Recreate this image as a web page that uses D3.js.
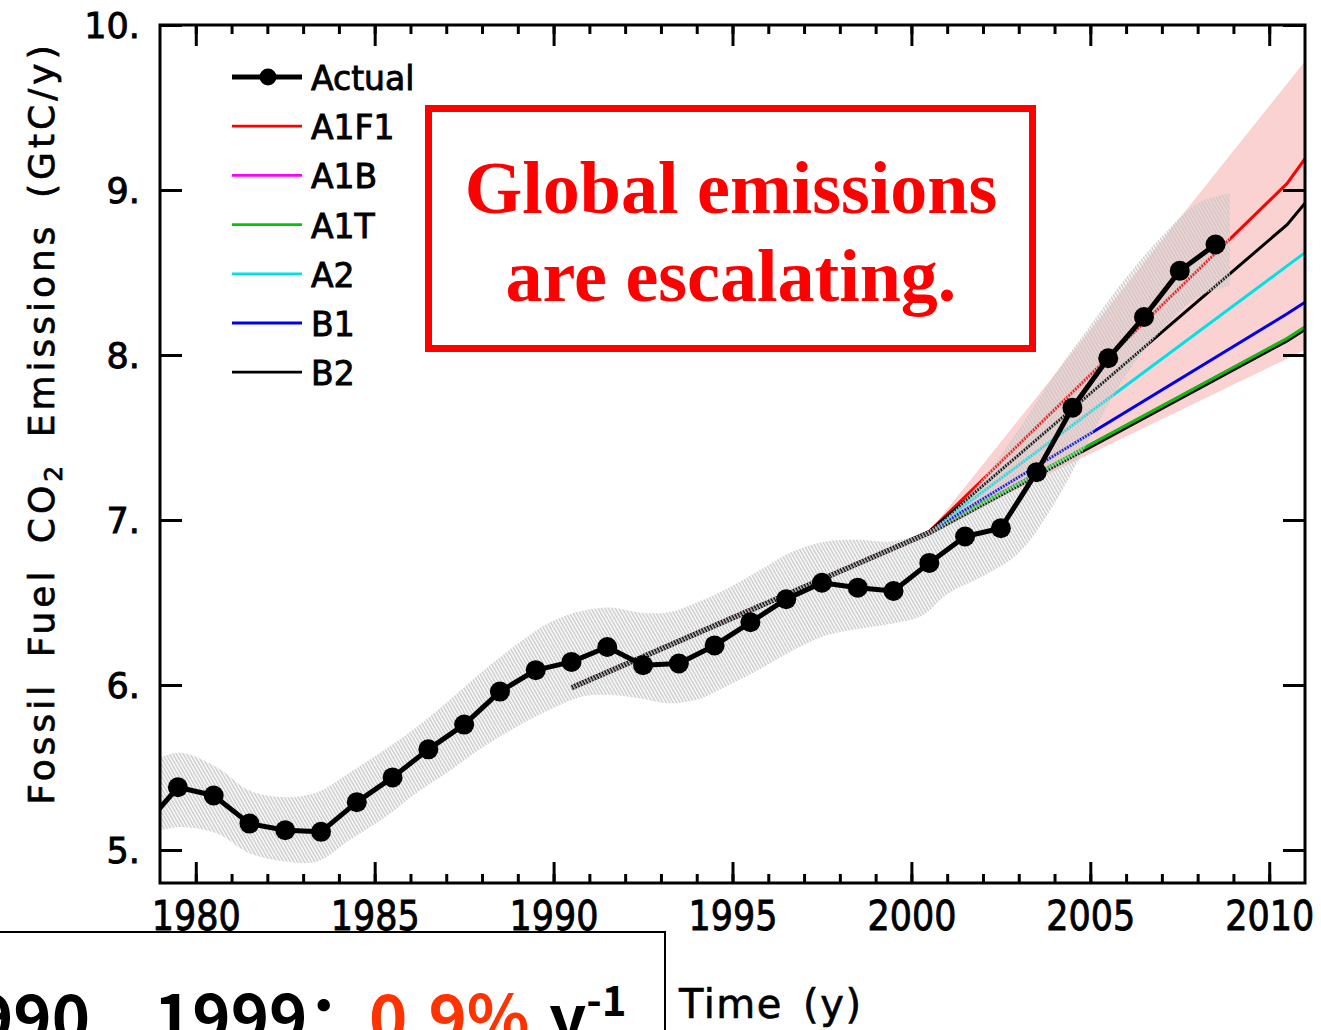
<!DOCTYPE html>
<html><head><meta charset="utf-8">
<script src="https://cdn.jsdelivr.net/npm/d3@7/dist/d3.min.js"></script>
<style>body{margin:0;background:#fff} svg{display:block}</style>
</head><body>
<svg id="c" width="1321" height="1030"></svg>
<script>
// ---------------- data ----------------
const actualYears  = d3.range(1978, 2009);            // plotted at mid-year
const actualValues = [5.13, 5.38, 5.33, 5.16, 5.12, 5.11, 5.29, 5.44, 5.61, 5.76,
                      5.96, 6.09, 6.14, 6.23, 6.12, 6.13, 6.24, 6.38, 6.52, 6.62,
                      6.59, 6.57, 6.74, 6.90, 6.95, 7.29, 7.68, 7.98, 8.23, 8.51, 8.67];

const scenarioNames  = ["A1F1", "A1B", "A1T", "A2", "B1", "B2"];
const scenarioColors = ["#ff0000", "#ff00ff", "#00c800", "#00e0e6", "#0000ee", "#000000"];
const scenarioYears  = [1990, 2000, 2010, 2010.5];   // plotted at mid-year
const A1F1 = [5.99, 6.93, 9.04, 9.19];
const A1B  = [5.99, 6.93, 8.10, 8.17];
const A1T  = [5.99, 6.93, 8.10, 8.17];
const A2   = [5.99, 6.93, 8.54, 8.62];
const B1   = [5.99, 6.93, 8.25, 8.32];
const B2   = [5.99, 6.93, 8.79, 8.92];
const scenarioValues = [A1F1, A1B, A1T, A2, B1, B2];

// scenario envelope (pink)
const fanYears = [2000.5, 2011];
const fanUpper = [6.93, 9.78];
const fanLower = [6.93, 8.03];

// uncertainty band around actual (grey hatched)
const bandYears = [1978.5, 1979.0, 1979.6, 1980.6, 1981.5, 1982.5, 1983.4, 1984.3, 1985.3, 1986.2,
                   1987.1, 1988.0, 1989.0, 1989.9, 1990.8, 1991.6, 1992.4, 1993.2, 1994.0, 1994.9,
                   1995.8, 1996.7, 1997.6, 1998.5, 1999.4, 2000.3, 2001.0, 2002.0, 2003.0, 2004.0,
                   2005.0, 2006.0, 2007.0, 2008.0, 2008.9];
const bandUpper = [5.52, 5.56, 5.59, 5.50, 5.36, 5.32, 5.35, 5.47, 5.61, 5.75,
                   5.91, 6.08, 6.25, 6.38, 6.45, 6.47, 6.44, 6.44, 6.50, 6.59,
                   6.70, 6.81, 6.87, 6.88, 6.87, 6.92, 7.02, 7.25, 7.55, 7.88,
                   8.18, 8.47, 8.72, 8.92, 8.98];
const bandLower = [5.10, 5.12, 5.14, 5.10, 4.98, 4.93, 4.93, 5.06, 5.20, 5.35,
                   5.48, 5.62, 5.75, 5.85, 5.93, 5.94, 5.92, 5.89, 5.91, 6.00,
                   6.10, 6.21, 6.30, 6.34, 6.37, 6.42, 6.55, 6.66, 6.80, 7.10,
                   7.50, 7.88, 8.15, 8.35, 8.42];

const xMajorTicks  = [1980, 1985, 1990, 1995, 2000, 2005, 2010];
const xTickLabels  = ["1980", "1985", "1990", "1995", "2000", "2005", "2010"];
const xMinorTicks  = d3.range(1980, 2011);
const yTicks       = [5, 6, 7, 8, 9, 10];
const yTickLabels  = ["5.", "6.", "7.", "8.", "9.", "10."];

// ---------------- chart ----------------
const svg = d3.select("#c");
const x = d3.scaleLinear().domain([1979, 2011]).range([160, 1305]);
const y = d3.scaleLinear().domain([4.8, 10]).range([883, 25]);
const AX = "DejaVu Sans, Verdana, sans-serif";

const defs = svg.append("defs");
defs.append("clipPath").attr("id", "plot")
  .append("rect").attr("x", 160).attr("y", 25).attr("width", 1145).attr("height", 858);
const pat = defs.append("pattern").attr("id", "hatch")
  .attr("patternUnits", "userSpaceOnUse").attr("width", 3).attr("height", 3)
  .attr("patternTransform", "rotate(-30)");
pat.append("rect").attr("x", 0).attr("y", 0).attr("width", 1.5).attr("height", 3).attr("fill", "#c9c9c9");

const g = svg.append("g").attr("clip-path", "url(#plot)");

// pink envelope
const fanData = fanYears.map((yr, i) => ({yr, lo: fanLower[i], hi: fanUpper[i]}));
g.append("path").datum(fanData)
  .attr("d", d3.area().x(d => x(d.yr)).y0(d => y(d.lo)).y1(d => y(d.hi)))
  .attr("fill", "#fad2d2");

// scenario lines
const sLine = d3.line().x(d => x(d.yr + 0.5)).y(d => y(d.v));
const drawOrder = [1, 2, 4, 3, 0, 5];
drawOrder.forEach(k => {
  const data = scenarioYears.map((yr, i) => ({yr, v: scenarioValues[k][i]}));
  if (scenarioNames[k] === "A1T") {
    g.append("path").datum(data).attr("d", sLine).attr("fill", "none")
      .attr("stroke", "#000").attr("stroke-width", 3).attr("transform", "translate(0,2.4)");
  }
  g.append("path").datum(data).attr("d", sLine).attr("fill", "none")
    .attr("stroke", scenarioColors[k]).attr("stroke-width", 3);
});

// hatched band
const bandData = bandYears.map((yr, i) => ({yr, lo: bandLower[i], hi: bandUpper[i]}));
g.append("path").datum(bandData)
  .attr("d", d3.area().curve(d3.curveCatmullRom).x(d => x(d.yr)).y0(d => y(d.lo)).y1(d => y(d.hi)))
  .attr("fill", "url(#hatch)");

// actual
const actual = actualYears.map((yr, i) => ({yr, v: actualValues[i]}));
g.append("path").datum(actual)
  .attr("d", d3.line().x(d => x(d.yr + 0.5)).y(d => y(d.v)))
  .attr("fill", "none").attr("stroke", "#000").attr("stroke-width", 5).attr("stroke-linejoin", "round");
g.selectAll("circle.act").data(actual).enter().append("circle")
  .attr("cx", d => x(d.yr + 0.5)).attr("cy", d => y(d.v)).attr("r", 10).attr("fill", "#000");

// axes
function styleAxis(sel) {
  sel.select(".domain").remove();
  sel.selectAll("line").attr("stroke", "#000").attr("stroke-width", 3);
}
svg.append("g").attr("transform", "translate(0,883)")
  .call(d3.axisBottom(x).tickValues(xMinorTicks).tickSize(-9).tickFormat(""))
  .call(styleAxis);
svg.append("g").attr("transform", "translate(0,25)")
  .call(d3.axisTop(x).tickValues(xMinorTicks).tickSize(-9).tickFormat(""))
  .call(styleAxis);
svg.append("g").attr("transform", "translate(0,25)")
  .call(d3.axisTop(x).tickValues(xMajorTicks).tickSize(-21).tickFormat(""))
  .call(styleAxis);
const xb = svg.append("g").attr("transform", "translate(0,883)")
  .call(d3.axisBottom(x).tickValues(xMajorTicks).tickSize(-21).tickPadding(18)
        .tickFormat((d, i) => xTickLabels[i]))
  .call(styleAxis);
xb.selectAll("text").attr("font-family", AX).attr("font-size", 41).attr("fill", "#000")
  .attr("stroke", "#000").attr("stroke-width", 0.9)
  .attr("textLength", 89).attr("lengthAdjust", "spacingAndGlyphs");

const yl = svg.append("g").attr("transform", "translate(160,0)")
  .call(d3.axisLeft(y).tickValues(yTicks).tickSize(-22).tickPadding(20)
        .tickFormat((d, i) => yTickLabels[i]))
  .call(styleAxis);
yl.selectAll("text").attr("font-family", AX).attr("font-size", 35).attr("fill", "#000")
  .attr("stroke", "#000").attr("stroke-width", 0.9).attr("dy", "0.36em");
svg.append("g").attr("transform", "translate(1305,0)")
  .call(d3.axisRight(y).tickValues(yTicks).tickSize(-22).tickFormat(""))
  .call(styleAxis);

// frame
svg.append("rect").attr("x", 160).attr("y", 25).attr("width", 1145).attr("height", 858)
  .attr("fill", "none").attr("stroke", "#000").attr("stroke-width", 3);

// y title
const yt = svg.append("text")
  .attr("transform", "translate(54,423) rotate(-90)")
  .attr("text-anchor", "middle").attr("font-family", AX).attr("font-size", 36)
  .attr("letter-spacing", 4).attr("word-spacing", 9)
  .attr("fill", "#000").attr("stroke", "#000").attr("stroke-width", 0.7);
yt.append("tspan").text("Fossil Fuel CO");
yt.append("tspan").attr("font-size", 25).attr("dy", 8).text("2");
yt.append("tspan").attr("dy", -8).text(" Emissions (GtC/y)");

// x title
svg.append("text").attr("x", 679).attr("y", 1018)
  .attr("font-family", AX).attr("font-size", 40).attr("letter-spacing", 1.5).attr("word-spacing", 6)
  .attr("fill", "#000").attr("stroke", "#000").attr("stroke-width", 0.6)
  .text("Time (y)");

// legend
const legendNames  = ["Actual"].concat(scenarioNames);
const legendColors = ["#000"].concat(scenarioColors);
const leg = svg.append("g");
legendNames.forEach((name, i) => {
  const cy = 77 + i * 49.2;
  leg.append("line").attr("x1", 232).attr("x2", 302).attr("y1", cy).attr("y2", cy)
    .attr("stroke", legendColors[i]).attr("stroke-width", i === 0 ? 5 : 2.8);
  if (i === 0) leg.append("circle").attr("cx", 268).attr("cy", cy).attr("r", 8.5).attr("fill", "#000");
  leg.append("text").attr("x", 311).attr("y", cy + 13)
    .attr("font-family", AX).attr("font-size", 33).attr("fill", "#000")
    .attr("stroke", "#000").attr("stroke-width", 0.9).text(name);
});

// red annotation box
svg.append("rect").attr("x", 428.5).attr("y", 108.5).attr("width", 604).attr("height", 240)
  .attr("fill", "#fff").attr("stroke", "#ff0000").attr("stroke-width", 7);
const note = svg.append("text").attr("text-anchor", "middle")
  .attr("font-family", "Liberation Serif, Times New Roman, serif").attr("font-weight", "bold")
  .attr("font-size", 74).attr("fill", "#ff0000");
note.append("tspan").attr("x", 731).attr("y", 213).text("Global emissions");
note.append("tspan").attr("x", 731).attr("y", 301).text("are escalating.");

// bottom rate box
svg.append("rect").attr("x", -10).attr("y", 932).attr("width", 675).attr("height", 130)
  .attr("fill", "#fff").attr("stroke", "#000").attr("stroke-width", 2);
const CJK = "Noto Sans CJK SC, sans-serif";
svg.append("text").attr("font-family", CJK).attr("font-size", 65).attr("font-weight", "bold")
  .attr("fill", "#000").attr("x", 90).attr("y", 1042).attr("text-anchor", "end").text("1990");
svg.append("text").attr("font-family", CJK).attr("font-size", 65).attr("font-weight", "bold")
  .attr("fill", "#000").attr("x", 154).attr("y", 1042).text("1999：");
svg.append("text").attr("font-family", CJK).attr("font-size", 65).attr("font-weight", "bold")
  .attr("fill", "#ff3300").attr("x", 369).attr("y", 1042).text("0.9%");
const r2 = svg.append("text").attr("font-family", CJK).attr("font-size", 65).attr("font-weight", "bold")
  .attr("fill", "#000").attr("x", 549).attr("y", 1042);
r2.append("tspan").text("y");
r2.append("tspan").attr("font-size", 42).attr("dy", -26).text("-1");
</script>
</body></html>
